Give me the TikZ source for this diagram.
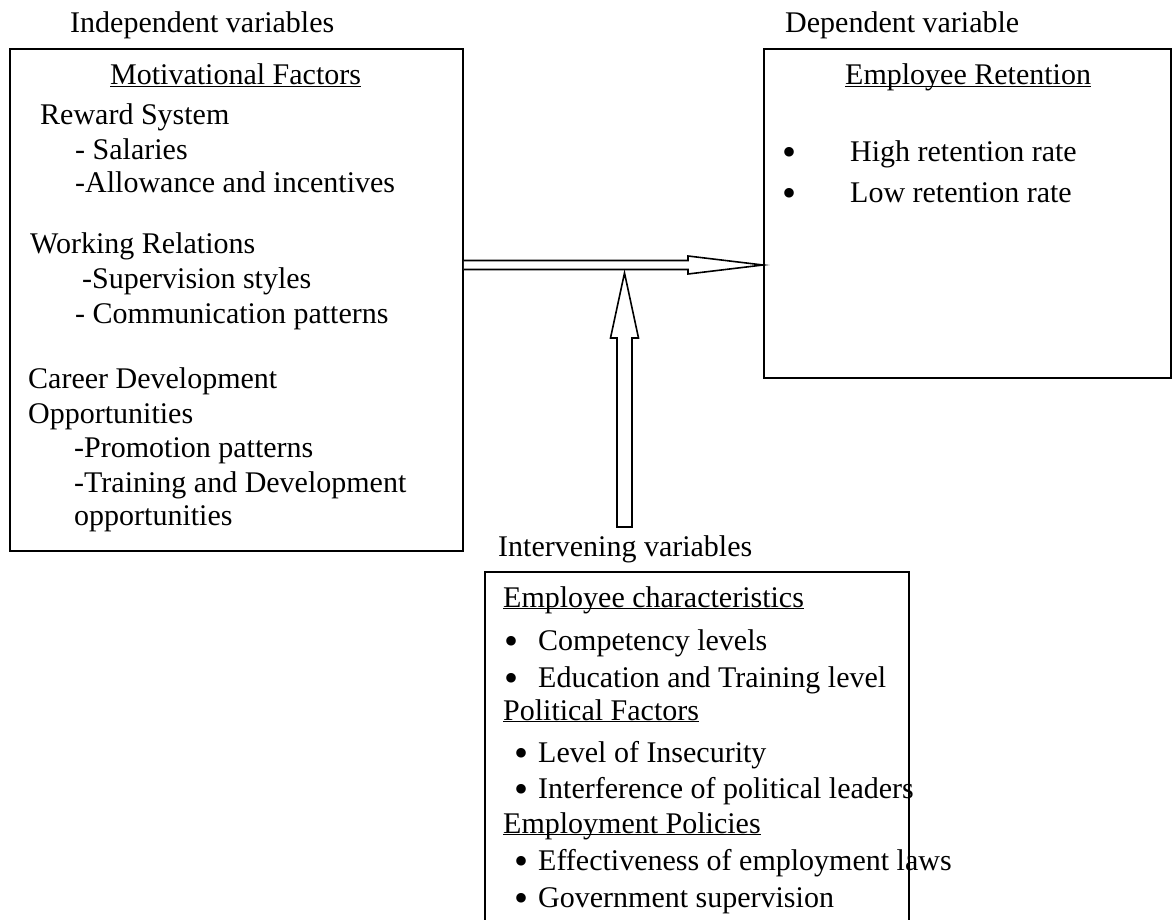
\documentclass[tikz,border=0pt]{standalone}
\usepackage{fontspec}
\setmainfont{Liberation Serif}
\usetikzlibrary{calc}

\newcommand{\ulbl}[1]{\underline{\smash{#1}}}
\newcommand{\bigdot}[1]{\makebox[#1][l]{\raisebox{-4pt}{\smash{\fontsize{40}{34}\selectfont\textbullet}}}}

\begin{document}
\begin{tikzpicture}[x=1pt, y=-1pt, font=\fontsize{30}{34}\selectfont,
    txt/.style={anchor=base west, inner sep=0pt},
    box/.style={draw=black, line width=1.8pt, anchor=north west, inner sep=0pt},
    hollow/.style={draw=black, line width=1.6pt, fill=white, line join=miter}]
    \useasboundingbox (0,0) rectangle (1172,920);
    \clip (0,0) rectangle (1172,920);

    % boxes
    \node[box, minimum width=453pt, minimum height=502pt] (indep) at (9,48) {};
    \node[box, minimum width=407pt, minimum height=329pt] (dep) at (763,48) {};
    \node[box, minimum width=424pt, minimum height=400pt] (interv) at (484,571) {};

    % headings
    \node[txt] (indeplbl) at (70,33) {Independent variables};
    \node[txt] (deplbl) at (785,33) {Dependent variable};
    \node[txt] (intervlbl) at (498,556) {Intervening variables};

    % independent variables
    \node[txt] (mf) at (110,85) {\ulbl{Motivational Factors}};
    \node[txt] (rs) at (40,125) {Reward System};
    \node[txt] (sal) at (75,160) {- Salaries};
    \node[txt] (alw) at (75,193) {-Allowance and incentives};
    \node[txt] (wr) at (30,253) {Working Relations};
    \node[txt] (sup) at (82,288) {-Supervision styles};
    \node[txt] (com) at (75,323) {- Communication patterns};
    \node[txt] (cd) at (28,388) {Career Development};
    \node[txt] (opp) at (28,423) {Opportunities};
    \node[txt] (pro) at (74,457) {-Promotion patterns};
    \node[txt] (trn) at (74,492) {-Training and Development};
    \node[txt] (trn2) at (74,525) {opportunities};

    % dependent variable
    \node[txt] (er) at (845,85) {\ulbl{Employee Retention}};
    \node[txt] (hrr) at (782,162) {\bigdot{68pt}High retention rate};
    \node[txt] (lrr) at (782,203) {\bigdot{68pt}Low retention rate};

    % intervening variables
    \node[txt] (ec) at (503,607) {\ulbl{Employee characteristics}};
    \node[txt] (cl) at (504,650) {\bigdot{34pt}Competency levels};
    \node[txt] (etl) at (504,687) {\bigdot{34pt}Education and Training level};
    \node[txt] (pf) at (503,720) {\ulbl{Political Factors}};
    \node[txt] (li) at (514,762) {\bigdot{24pt}Level of Insecurity};
    \node[txt] (ipl) at (514,798) {\bigdot{24pt}Interference of political leaders};
    \node[txt] (ep) at (503,833) {\ulbl{Employment Policies}};
    \node[txt] (eel) at (514,870) {\bigdot{24pt}Effectiveness of employment laws};
    \node[txt] (gs) at (514,907) {\bigdot{24pt}Government supervision};

    % arrows
    \coordinate (h) at (indep.east |- 0,265);
    \coordinate (v) at (624.5,527);
    \draw[hollow] ($(h)+(0,-4.5)$) -- (688,260.5) -- (688,256) -- (dep.west |- h)
        -- (688,274) -- (688,269.5) -- ($(h)+(0,4.5)$);
    \draw[hollow] ($(v)+(-7.5,0)$) -- (617,338) -- (610.5,338) -- (624.5,273)
        -- (638.5,338) -- (632,338) -- (632,527) -- cycle;

\end{tikzpicture}
\end{document}
